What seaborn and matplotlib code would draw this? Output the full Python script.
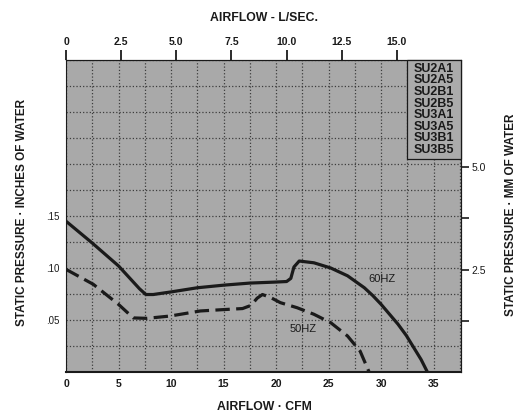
import matplotlib
matplotlib.use("Agg")
import matplotlib.pyplot as plt
import seaborn as sns
from matplotlib.ticker import MultipleLocator
from matplotlib.patches import Rectangle

# fan curves (airflow in CFM, static pressure in inches of water)
cfm_60 = [0, 2.5, 5.0, 7.0, 7.6, 8.3, 10.0, 12.5, 15.0, 17.5, 20.0, 21.0, 21.4, 21.7,
          22.2, 23.6, 25.2, 26.8, 28.4, 29.2, 30.0, 31.6, 32.4, 33.1, 33.8, 34.4]
pres_60 = [0.145, 0.124, 0.102, 0.080, 0.0745, 0.0745, 0.077, 0.081, 0.0835, 0.0855, 0.0865,
           0.087, 0.090, 0.101, 0.1067, 0.105, 0.100, 0.0925, 0.081, 0.0735, 0.065, 0.046,
           0.035, 0.0235, 0.012, 0.0]

cfm_50 = [0, 2.6, 5.0, 6.4, 7.7, 9.9, 12.8, 15.0, 16.8, 17.6, 18.2, 18.7, 19.5, 20.4,
          22.0, 23.6, 25.2, 26.8, 28.0, 28.85]
pres_50 = [0.0987, 0.0843, 0.065, 0.052, 0.0516, 0.0538, 0.0587, 0.060, 0.061, 0.064,
           0.071, 0.0745, 0.0715, 0.0667, 0.0618, 0.0555, 0.0474, 0.0346, 0.020, 0.0]

models = ["SU2A1", "SU2A5", "SU2B1", "SU2B5", "SU3A1", "SU3A5", "SU3B1", "SU3B5"]

cfm_ticks = [0, 5, 10, 15, 20, 25, 30, 35]
inch_ticks = [0.05, 0.10, 0.15]
inch_labels = [".05", ".10", ".15"]
lps_ticks = [0, 2.5, 5.0, 7.5, 10.0, 12.5, 15.0]
lps_labels = ["0", "2.5", "5.0", "7.5", "10.0", "12.5", "15.0"]
mm_ticks = [1.25, 2.5, 3.75, 5.0]
mm_labels = ["", "2.5", "", "5.0"]

sns.set_style("ticks")
plt.rcParams["font.family"] = ["Liberation Sans", "DejaVu Sans"]
ink = "#1a1a1a"

fig = plt.figure(figsize=(5.2, 4.13), dpi=100)
ax = fig.add_axes([66 / 520, 1 - 372 / 413, (461 - 66) / 520, (372 - 60) / 413])
ax.set_facecolor("#a9a9a9")

sns.lineplot(x=cfm_60, y=pres_60, ax=ax, color=ink, lw=2.3, sort=False, estimator=None)
sns.lineplot(x=cfm_50, y=pres_50, ax=ax, color=ink, lw=2.3, sort=False, estimator=None,
             linestyle=(0, (4.5, 2)))

ax.set_xlim(0, 37.6)
ax.set_ylim(0, 0.3)
ax.set_xticks(cfm_ticks)
ax.set_xticklabels([str(t) for t in cfm_ticks], fontsize=7.5, weight="bold", color=ink)
ax.xaxis.set_minor_locator(MultipleLocator(2.5))
ax.set_yticks(inch_ticks)
ax.set_yticklabels(inch_labels, fontsize=7, color=ink)
ax.yaxis.set_minor_locator(MultipleLocator(0.025))
ax.tick_params(which="both", length=0)
ax.tick_params(axis="x", pad=5)
ax.tick_params(axis="y", pad=5)
ax.grid(which="both", color="#2a2a2a", linestyle=":", linewidth=0.9, alpha=0.85)
ax.set_axisbelow(True)
for side in ["left", "top", "right"]:
    ax.spines[side].set_linewidth(0.8)
    ax.spines[side].set_color(ink)
ax.spines["bottom"].set_linewidth(1.5)
ax.spines["bottom"].set_color(ink)

# model box in the upper right corner
ax.add_patch(Rectangle((32.45, 0.205), 37.6 - 32.45, 0.3 - 0.205, facecolor="#ababab",
                       edgecolor=ink, linewidth=0.9, zorder=3, clip_on=False))
ax.text(35.05, 0.2975, "\n".join(models), ha="center", va="top", fontsize=9,
        weight="bold", color=ink, linespacing=0.96, zorder=4)

ax.text(30.1, 0.0897, "60HZ", ha="center", va="center", fontsize=8, color=ink)
ax.text(22.6, 0.041, "50HZ", ha="center", va="center", fontsize=8, color=ink)

top = ax.secondary_xaxis("top", functions=(lambda c: c / 2.1, lambda l: l * 2.1))
top.set_xticks(lps_ticks)
top.set_xticklabels(lps_labels, fontsize=7.5, weight="bold", color=ink)
top.tick_params(direction="out", length=7, width=1.3, pad=2, color=ink)

right = ax.secondary_yaxis("right", functions=(lambda i: i * 25.4, lambda m: m / 25.4))
right.set_yticks(mm_ticks)
right.set_yticklabels(mm_labels, fontsize=7.5, color=ink)
right.tick_params(direction="out", length=6, width=1.2, pad=1.5, color=ink)

fig.text(264 / 520, 1 - 18 / 413, "AIRFLOW - L/SEC.", ha="center", va="center",
         fontsize=8.8, weight="bold", color=ink)
fig.text(264 / 520, 1 - 407 / 413, "AIRFLOW · CFM", ha="center", va="center",
         fontsize=8.8, weight="bold", color=ink)
fig.text(22 / 520, 1 - 212 / 413, "STATIC PRESSURE · INCHES OF WATER", rotation=90,
         ha="center", va="center", fontsize=8.5, weight="bold", color=ink)
fig.text(511 / 520, 1 - 215 / 413, "STATIC PRESSURE · MM OF WATER", rotation=90,
         ha="center", va="center", fontsize=8.5, weight="bold", color=ink)

fig.savefig("out.png", dpi=100, facecolor="white")
